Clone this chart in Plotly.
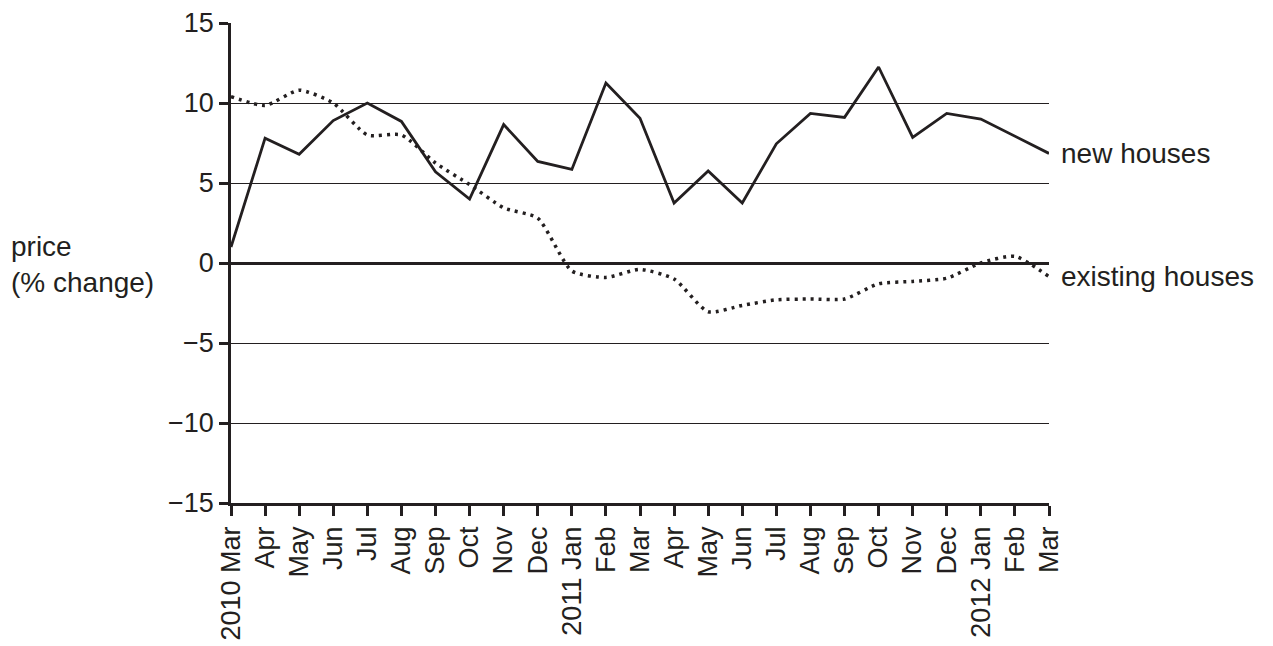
import plotly.graph_objects as go

months = ["2010 Mar", "Apr", "May", "Jun", "Jul", "Aug", "Sep", "Oct", "Nov", "Dec",
          "2011 Jan", "Feb", "Mar", "Apr", "May", "Jun", "Jul", "Aug", "Sep", "Oct",
          "Nov", "Dec", "2012 Jan", "Feb", "Mar"]
new_houses = [1.0, 7.8, 6.8, 8.9, 10.0, 8.85, 5.7, 4.0, 8.65, 6.35,
              5.85, 11.25, 9.05, 3.75, 5.75, 3.75, 7.45, 9.35, 9.1, 12.25,
              7.85, 9.35, 9.0, 7.9, 6.85]
existing_houses = [10.4, 9.85, 10.8, 10.0, 8.0, 8.0, 6.25, 4.9, 3.45, 2.8,
                   -0.5, -0.9, -0.4, -1.0, -3.05, -2.65, -2.3, -2.25, -2.25, -1.3,
                   -1.15, -0.95, 0.0, 0.42, -0.85]
y_ticks = [-15, -10, -5, 0, 5, 10, 15]
y_tick_text = ["\u221215", "\u221210", "\u22125", "0", "5", "10", "15"]

ink = "#231f20"
tick_font = dict(family="Liberation Sans, Arial, sans-serif", size=27, color=ink)
label_font = dict(family="Liberation Sans, Arial, sans-serif", size=28, color=ink)
xs = list(range(len(months)))

fig = go.Figure()
fig.add_trace(go.Scatter(x=xs, y=existing_houses, mode="lines",
                         line=dict(color=ink, width=3.5, dash="3px,5px", shape="spline", smoothing=0.6),
                         showlegend=False, cliponaxis=False))
fig.add_trace(go.Scatter(x=xs, y=new_houses, mode="lines",
                         line=dict(color=ink, width=2.8),
                         showlegend=False, cliponaxis=False))

fig.update_layout(
    width=1273, height=646,
    margin=dict(l=223, r=232, t=15, b=151, autoexpand=False),
    paper_bgcolor="white", plot_bgcolor="white",
    font=tick_font,
    xaxis=dict(range=[0, len(months) - 1], tickvals=xs, ticktext=months,
               tickangle=-90, ticks="outside", ticklen=10, tickwidth=2.5, tickcolor=ink,
               showgrid=False, zeroline=False, showline=True, linecolor=ink, linewidth=2.5,
               tickfont=tick_font, fixedrange=True, automargin=False),
    yaxis=dict(range=[-15, 15], tickvals=y_ticks, ticktext=y_tick_text,
               ticks="outside", ticklen=9, tickwidth=2.5, tickcolor=ink,
               showgrid=True, gridcolor=ink, gridwidth=1.2,
               zeroline=True, zerolinecolor=ink, zerolinewidth=2.8,
               showline=True, linecolor=ink, linewidth=2.8,
               tickfont=tick_font, fixedrange=True, automargin=False),
    annotations=[
        dict(text="price<br>(% change)", xref="paper", yref="y", x=0, y=-0.1,
             xshift=-222, xanchor="left", yanchor="middle", align="left",
             showarrow=False, font=label_font),
        dict(text="new houses", xref="paper", yref="y", x=1, y=new_houses[-1],
             xshift=10, xanchor="left", yanchor="middle", showarrow=False, font=label_font),
        dict(text="existing houses", xref="paper", yref="y", x=1, y=existing_houses[-1],
             xshift=10, xanchor="left", yanchor="middle", showarrow=False, font=label_font),
    ],
)

fig.write_html("out.html")
